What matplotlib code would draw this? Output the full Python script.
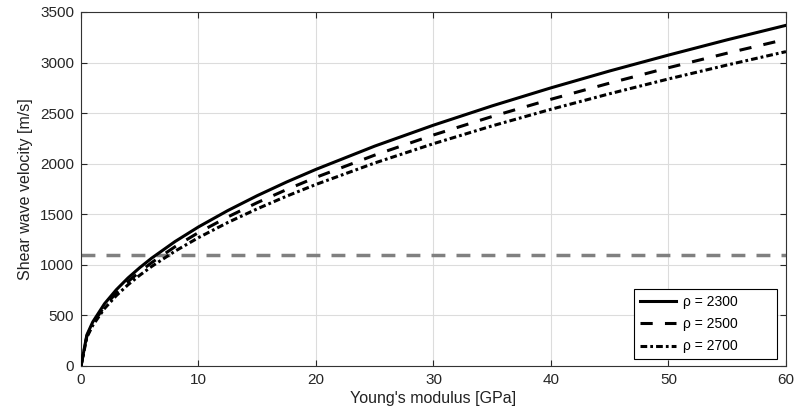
import matplotlib
matplotlib.use("Agg")
import matplotlib.pyplot as plt

E_gpa = [0, 0.5, 1, 2, 3, 4, 5, 6, 8, 10, 12.5, 15, 17.5, 20, 25, 30, 35, 40, 45, 50, 55, 60]
vs_2300 = [0, 307, 435, 615, 753, 870, 972, 1065, 1230, 1375, 1537, 1684, 1819, 1944, 2174, 2381, 2572, 2750, 2917, 3074, 3225, 3368]
vs_2500 = [0, 295, 417, 590, 722, 834, 932, 1021, 1179, 1319, 1474, 1615, 1744, 1865, 2085, 2284, 2467, 2637, 2797, 2949, 3093, 3230]
vs_2700 = [0, 284, 401, 568, 695, 803, 897, 983, 1135, 1269, 1419, 1554, 1679, 1795, 2007, 2198, 2374, 2538, 2692, 2838, 2976, 3108]
threshold = 1100
labels = ["ρ = 2300", "ρ = 2500", "ρ = 2700"]
x_ticks = [0, 10, 20, 30, 40, 50, 60]
y_ticks = [0, 500, 1000, 1500, 2000, 2500, 3000, 3500]

plt.rcParams['font.family'] = ['Liberation Sans', 'DejaVu Sans']

fig = plt.figure(figsize=(7.94, 4.12), dpi=100)
ax = fig.add_axes([0.1020, 0.1117, 0.8879, 0.8592])

lw = 2.2
ax.axhline(threshold, color='#808080', lw=2.5, dashes=(4.0, 3.2), zorder=2)
ax.plot(E_gpa, vs_2300, color='black', lw=lw, ls='-', label=labels[0], zorder=3)
ax.plot(E_gpa, vs_2500, color='black', lw=lw, dashes=(4.0, 4.0), label=labels[1], zorder=3)
ax.plot(E_gpa, vs_2700, color='black', lw=lw, dashes=(2.2, 1.0, 0.9, 1.0), label=labels[2], zorder=3)

ax.set_xlim(0, 60)
ax.set_ylim(0, 3500)
ax.set_xticks(x_ticks)
ax.set_yticks(y_ticks)
ax.grid(True, color='#dcdcdc', lw=0.8)
ax.set_axisbelow(True)
ax.tick_params(direction='in', length=4, labelsize=11, colors='#262626', top=True, right=True, pad=5)
for s in ax.spines.values():
    s.set_color('#333333')
    s.set_linewidth(0.8)
ax.set_xlabel("Young's modulus [GPa]", fontsize=11.5, labelpad=3, color='#222222')
ax.set_ylabel("Shear wave velocity [m/s]", fontsize=11.5, labelpad=5, color='#222222')

leg = ax.legend(loc='lower left', bbox_to_anchor=(0.7844, 0.0198, 0.2028, 0.1949), mode='expand',
                borderaxespad=0, fontsize=10, fancybox=False, edgecolor='black',
                framealpha=1, handlelength=2.6, handletextpad=0.5, labelspacing=0.6)
leg.get_frame().set_linewidth(0.8)

fig.savefig("out.png", dpi=100)
